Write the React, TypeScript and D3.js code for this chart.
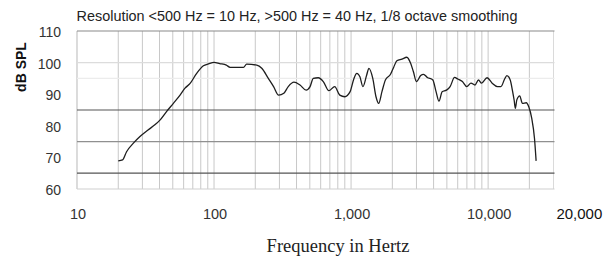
import React from "react";
import * as d3 from "d3";

// frequency response
const freqs = [
  20, 21.5, 23, 25.8, 28.8, 33, 37, 40.3, 45, 50.5, 56.5, 61.4, 66.9, 74.7, 83.6, 91, 100, 110, 123, 131,
  164, 173, 205, 223, 249, 272, 296, 323, 348, 383, 424, 470, 502, 530, 576, 627, 688, 760, 827, 900,
  984, 1050, 1100, 1160, 1220, 1300, 1350, 1440, 1520, 1590, 1680, 1780, 1940, 2040, 2160, 2350, 2550, 2720, 2850, 3000,
  3220, 3380, 3600, 3950, 4170, 4380, 4620, 4970, 5280, 5690, 6000, 6490, 6990, 7500, 8020, 8500, 8960, 9830, 10700, 11700,
  12400, 13200, 13700, 14500, 15100, 15500, 15800, 16200, 17000, 17800, 19000, 19800, 20800, 21800, 22400,
];
const spl = [
  68.9, 69.2, 71.8, 74.5, 76.6, 78.7, 80.3, 81.8, 84.5, 87.1, 89.7, 91.9, 93.4, 96.6, 99, 99.6, 100.1, 99.7, 99.2, 98.5,
  98.5, 99.5, 99.2, 98.2, 95, 92.4, 89.7, 90.3, 92.4, 93.8, 92.9, 91.3, 92.4, 95, 95.2, 94, 91.1, 92.4, 89.7, 89.2,
  90.8, 95, 96.6, 95.5, 92.4, 96.1, 98.2, 95, 89.2, 87.1, 90.8, 94.5, 96.3, 98.4, 100.6, 101.1, 101.7, 99.8, 97.1, 94,
  95.9, 96.3, 95.3, 94.5, 90.8, 87.8, 90.8, 91.3, 92.4, 95.3, 94.8, 94, 92.4, 93.5, 92.9, 94.5, 93.5, 95.2, 93.5, 92.4,
  92.4, 94.8, 95.9, 94.5, 90.8, 88, 85.5, 88.2, 89.5, 87.1, 87.3, 86, 82.4, 76, 68.9,
];

const xTicks = [10, 100, 1000, 10000];
const xTickLabels = ["10", "100", "1,000", "10,000"];
const yTicks = [60, 70, 80, 90, 100, 110];
const minorFreqs = [20, 30, 40, 50, 60, 70, 80, 90, 100, 200, 300, 400, 500, 600, 700, 800, 900, 1000,
  2000, 3000, 4000, 5000, 6000, 7000, 8000, 9000, 10000, 20000];
// horizontal rules in the scan and their shade
const hLines = [110, 100, 95, 85, 75, 65, 60];
const hColors = ["#8a8a8a", "#dcdcdc", "#ececec", "#555", "#909090", "#555", "#d0d0d0"];

const width = 605;
const height = 257;

export default function App() {
  const x = d3.scaleLog().domain([10, 30000]).range([77, 553.5]);
  const y = d3.scaleLinear().domain([60, 110]).range([189, 31]);

  const line = d3
    .line<number>()
    .x((d, i) => x(freqs[i]))
    .y(d => y(d))
    .curve(d3.curveMonotoneX);

  const font = "'Liberation Sans', Arial, sans-serif";

  return (
    <svg width={width} height={height} style={{ position: "absolute", left: 0, top: 0 }}>
      <rect width={width} height={height} fill="#fff" />
      <text x={297} y={21} textAnchor="middle" fontFamily={font} fontSize={14.4} fill="#222">
        Resolution &lt;500 Hz = 10 Hz, &gt;500 Hz = 40 Hz, 1/8 octave smoothing
      </text>

      {/* vertical grid */}
      <line x1={x(10)} x2={x(10)} y1={y(110)} y2={y(60)} stroke="#c4c4c4" strokeWidth={1.2} />
      {minorFreqs.map(f => (
        <line key={f} x1={x(f)} x2={x(f)} y1={y(110)} y2={y(60)} stroke="#c8c8c8" strokeWidth={1} />
      ))}
      <line x1={x(30000)} x2={x(30000)} y1={y(110)} y2={y(60)} stroke="#dadada" strokeWidth={1} />

      {/* horizontal rules */}
      {hLines.map((v, i) => (
        <line key={v} x1={x(10)} x2={x(30000) + 1} y1={y(v)} y2={y(v)} stroke={hColors[i]} strokeWidth={1.2} />
      ))}

      <path d={line(spl) || ""} fill="none" stroke="#1e1e1e" strokeWidth={1.3} />

      {/* y tick labels */}
      {yTicks.map(v => (
        <text key={v} x={61} y={y(v) + 6} textAnchor="end" fontFamily={font} fontSize={14} fill="#333">
          {v}
        </text>
      ))}
      <text
        transform={`translate(26,67) rotate(-90)`}
        textAnchor="middle"
        fontFamily={font}
        fontSize={14}
        fontWeight="bold"
        fill="#111"
      >
        dB SPL
      </text>

      {/* x tick labels */}
      {xTicks.map((f, i) => (
        <text key={f} x={x(f) + 1} y={219} textAnchor="middle" fontFamily={font} fontSize={14.5} fill="#333">
          {xTickLabels[i]}
        </text>
      ))}
      <text x={x(20000) + 50} y={219} textAnchor="middle" fontFamily={font} fontSize={15} fill="#111">
        20,000
      </text>

      <text x={338} y={252} textAnchor="middle" fontFamily="'Liberation Serif', 'Times New Roman', serif" fontSize={18.5} fill="#222">
        Frequency in Hertz
      </text>
    </svg>
  );
}
